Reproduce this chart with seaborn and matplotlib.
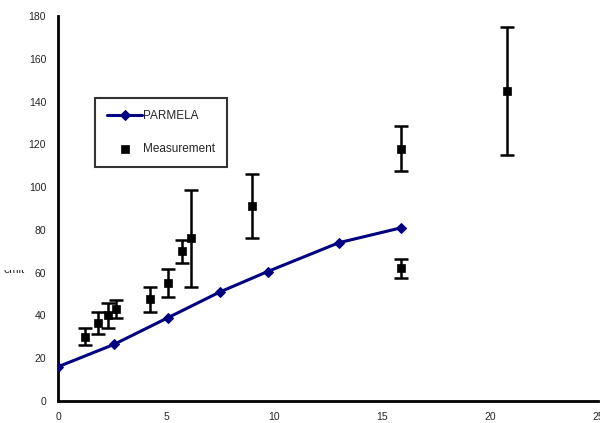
import matplotlib
matplotlib.use("Agg")
import matplotlib.pyplot as plt
import seaborn as sns
import pandas as pd
import numpy as np
from matplotlib.transforms import Bbox

sns.set_style("white")
plt.rcParams['font.family'] = ['Liberation Sans', 'DejaVu Sans']

# PARMELA simulation
parmela_x = [0, 2.6, 5.1, 7.5, 9.7, 13.0, 15.9]
parmela_y = [16, 26.5, 39, 51, 60.5, 74, 81]

# Measurements with error bars
meas_x = [1.25, 1.85, 2.3, 2.7, 4.25, 5.1, 5.75, 6.15, 9.0, 15.9, 15.9, 20.8]
meas_y = [30, 36.5, 40, 43, 47.5, 55, 70, 76, 91, 118, 62, 145]
meas_err = [4, 5, 6, 4, 6, 6.5, 5.5, 22.5, 15, 10.5, 4.5, 30]

xticks = [0, 5, 10, 15, 20, 25]
yticks = [0, 20, 40, 60, 80, 100, 120, 140, 160, 180]

W, H = 600, 423
fig = plt.figure(figsize=(6, 4.23), dpi=100)
ax = fig.add_axes([58 / W, 1 - 401 / H, 540 / W, 385 / H])

df = pd.DataFrame({"x": parmela_x, "y": parmela_y})
sns.lineplot(data=df, x="x", y="y", ax=ax, color="#000080", linewidth=2.2,
             marker="D", markersize=5, markeredgecolor="#000080", label="PARMELA",
             zorder=3)

ax.errorbar(meas_x, meas_y, yerr=meas_err, fmt="none", ecolor="black",
            elinewidth=1.8, capsize=5, capthick=1.8, zorder=2)
sns.scatterplot(x=meas_x, y=meas_y, ax=ax, color="black", marker="s", s=38,
                edgecolor="black", label="Measurement", zorder=4)

ax.set_xlim(0, 25)
ax.set_ylim(0, 180)
ax.set_xticks(xticks)
ax.set_yticks(yticks)
ax.tick_params(axis="both", labelsize=7.5, direction="inout", length=6, width=1.8)
ax.tick_params(axis="x", pad=5)
ax.tick_params(axis="y", pad=5.5)
ax.set_xlabel("")
ax.set_ylabel("")
for s in ["top", "right"]:
    ax.spines[s].set_visible(False)
for s in ["left", "bottom"]:
    ax.spines[s].set_linewidth(2)
    ax.spines[s].set_color("black")

# clipped axis title remnant (only lower part visible in the original)
t = fig.text(4 / W, 1 - 270 / H, "emit", fontsize=8, va="center", ha="left")
t.set_clip_box(Bbox.from_extents(0, 0, 40, H - 269.5))
t.set_clip_on(True)

leg = ax.legend(loc="upper left", bbox_to_anchor=(95 / W, 1 - 98 / H),
                bbox_transform=fig.transFigure, frameon=True,
                fancybox=False, fontsize=8.5, handlelength=3.0, borderpad=1.0,
                labelspacing=1.8, handletextpad=0.1, borderaxespad=0)
leg.get_frame().set_edgecolor("black")
leg.get_frame().set_linewidth(1.5)

fig.savefig("out.png", dpi=100)
